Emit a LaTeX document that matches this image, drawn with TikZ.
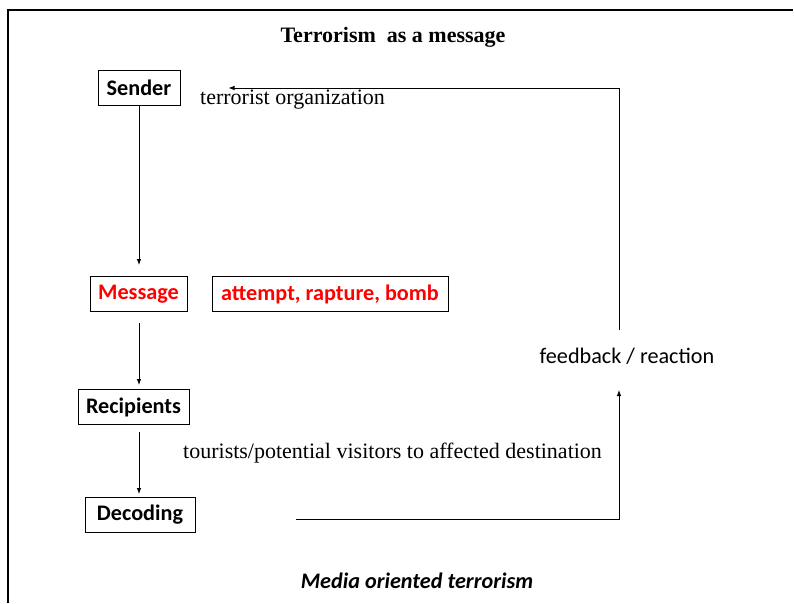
\documentclass[tikz,border=0pt]{standalone}
\usepackage{fontspec}
\setmainfont{Liberation Serif}
\newfontfamily\carl{Carlito}
\usetikzlibrary{arrows.meta}
\definecolor{msgred}{RGB}{255,0,0}
\tikzset{
  box/.style={draw, line width=1pt, minimum height=35pt, inner sep=0pt, font=\carl\bfseries\fontsize{22.2}{26}\selectfont},
  arr/.style={line width=0.8pt, -{Latex[length=6pt,width=4.5pt]}},
  plain/.style={line width=0.8pt},
  serif/.style={font=\fontsize{22}{26}\selectfont, inner sep=0pt},
}
\begin{document}
\begin{tikzpicture}[x=1pt,y=-1pt]
\useasboundingbox (0,0) rectangle (794,603);
\draw[line width=2.4pt] (8,603) -- (8,10) -- (793,10);
\node[font=\bfseries\fontsize{22}{26}\selectfont, inner sep=0pt] (title) at (393,37) {Terrorism\ \ as a message};
\node[box, minimum width=82pt] (S) at (139,88) {Sender};
\node[serif, anchor=west] (org) at (200,100) {terrorist organization};
\node[box, minimum width=97pt, text=msgred] (M) at (138.5,294) {Message};
\node[box, minimum width=236pt, text=msgred] (A) at (330,294) {attempt, rapture, bomb};
\node[box, minimum width=111pt] (R) at (133.5,407) {Recipients};
\node[serif, anchor=west] (tour) at (183,453) {tourists/potential visitors to affected destination};
\node[box, minimum width=110pt] (D) at (140,515) {Decoding};
\node[font=\carl\fontsize{22.2}{26}\selectfont, inner sep=0pt] (fb) at (627,356) {feedback / reaction};
\node[font=\carl\bfseries\itshape\fontsize{22.2}{26}\selectfont, inner sep=0pt] (media) at (417,581) {Media oriented terrorism};
\coordinate (d0) at (296,519);
\coordinate (fbB) at (619,390);
\coordinate (fbT) at (619,330);
\draw[arr, shorten >=11pt] (S.south) -- (S.south |- M.north);
\draw[arr, shorten <=11pt, shorten >=4pt] (S.south |- M.south) -- (S.south |- R.north);
\draw[arr, shorten <=7pt, shorten >=3pt] (S.south |- R.south) -- (S.south |- D.north);
\draw[arr] (d0) -| (fbB);
\draw[arr, shorten >=48pt] (fbT) |- (S.east);
\end{tikzpicture}
\end{document}
